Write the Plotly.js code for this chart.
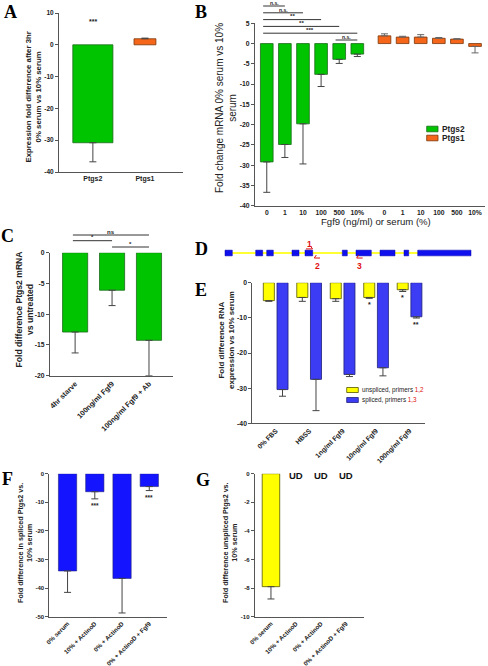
<!DOCTYPE html>
<html><head><meta charset="utf-8">
<script src="https://cdn.plot.ly/plotly-3.0.1.min.js"></script>
<style>html,body{margin:0;padding:0;background:#fff}</style>
</head><body><div id="chart" style="width:488px;height:666px"></div>
<script>
// ================= DATA =================
// Panel A
const catA = ['Ptgs2', 'Ptgs1'];
const valA = [-30.8, 1.9];
const errA = [6.0, 0.2];
const starsA = ['***', ''];

// Panel B
const catB = ['0', '1', '10', '100', '500', '10%'];
const seriesB = ['Ptgs2', 'Ptgs1'];
const ptgs2B = [-29.2, -24.9, -19.8, -7.6, -3.9, -2.6];
const ptgs2BErr = [7.5, 3.2, 9.9, 3.0, 1.0, 0.6];
const ptgs1B = [1.9, 1.6, 1.6, 1.3, 1.1, -0.7];
const ptgs1BErr = [0.5, 0.2, 0.6, 0.2, 0.1, 1.6];
const sigB = [[0, 1, 'n.s.'], [0, 2, 'n.s.'], [0, 3, '**'], [0, 4, '**'], [0, 5, '***'], [4, 5, 'n.s.']];

// Panel C
const catC = ['4hr starve', '100ng/ml Fgf9', '100ng/ml Fgf9 + Ab'];
const valC = [-12.9, -6.1, -14.25];
const errC = [3.4, 2.5, 5.75];
const sigC = [[0, 2, 'ns'], [0, 1, '*'], [1, 2, '*']];

// Panel D (gene schematic, arbitrary units)
const exonStart = [0, 30.7, 41.7, 67, 80, 117.3, 131, 155, 179, 192.7];
const exonEnd = [7.3, 37.7, 48.3, 74, 87.7, 122.3, 146.3, 170, 183.7, 246];
const primerLabel = ['1', '2', '3'];
const primerStart = [81, 89.3, 131.7];
const primerEnd = [87.5, 95, 137.7];
const primerStrand = [1, -1, -1];

// Panel E
const catE = ['0% FBS', 'HBSS', '1ng/ml Fgf9', '10ng/ml Fgf9', '100ng/ml Fgf9'];
const seriesEName = ['unspliced, primers ', 'spliced, primers '];
const seriesEPrimers = ['1,2', '1,3'];
const unsplicedE = [-5.1, -4.2, -4.55, -4.2, -2.0];
const unsplicedErr = [0.2, 1.1, 0.75, 0.25, 0.5];
const splicedE = [-30.4, -27.5, -26.1, -24.2, -9.7];
const splicedErr = [1.9, 8.9, 0.6, 2.3, 0.35];
const starsUnspliced = ['', '', '', '*', '*'];
const starsSpliced = ['', '', '', '', '**'];

// Panel F
const catF = ['0% serum', '10% + ActinoD', '0% + ActinoD', '0% + ActinoD + Fgf9'];
const valF = [-34.0, -6.3, -36.6, -4.5];
const errF = [7.5, 2.5, 12.1, 1.4];
const starsF = ['', '***', '', '***'];

// Panel G
const catG = ['0% serum', '10% + ActinoD', '0% + ActinoD', '0% + ActinoD + Fgf9'];
const valG = [-7.9, null, null, null];
const errG = [0.86, 0, 0, 0];
const udG = ['', 'UD', 'UD', 'UD'];

// ================= STYLE / LAYOUT HELPERS =================
const FONT = 'Liberation Sans, Arial, sans-serif';
const SERIF = 'Liberation Serif, Times New Roman, serif';
const W = 488, H = 666;
const px = v => v / W;
const py = v => 1 - v / H;
const GREEN = '#00c400', GREEN_L = '#1d6b1d';
const ORANGE = '#f5661a', ORANGE_L = '#7a3508';
const YELLOW = '#ffff00', YELLOW_L = '#555500';
const BLUE_E = '#3c3cf5', BLUE_F = '#1414ff', BLUE_L = '#20207a';
const AXC = '#555';

function idx(arr) { return arr.map((_, i) => i); }
function errY(vals, errs, color) {
  return {
    type: 'data', symmetric: false, visible: true,
    array: vals.map((v, i) => (v !== null && v >= 0) ? errs[i] : 0),
    arrayminus: vals.map((v, i) => (v !== null && v < 0) ? errs[i] : 0),
    color: color || '#444', thickness: 1, width: 3.5
  };
}
function ticksFor(range, step) {
  const v = [];
  for (let t = range[0]; t <= range[1] + 1e-9; t += step) v.push(t);
  return v;
}
function yAx(top, bot, range, tickTop, step, fs, anchor) {
  const tv = ticksFor([range[0], tickTop], step);
  return {
    domain: [py(bot), py(top)], range: range, anchor: anchor,
    tickmode: 'array', tickvals: tv, ticktext: tv.map(String),
    showline: true, linecolor: AXC, linewidth: 1, ticks: 'outside', ticklen: 3, tickwidth: 1, tickcolor: AXC,
    showgrid: false, zeroline: false, automargin: false, fixedrange: true,
    tickfont: { family: FONT, size: fs, color: '#222', weight: 700 }
  };
}
function xAx(l, r, range, tv, tt, fs, angle, anchor) {
  return {
    domain: [px(l), px(r)], range: range, anchor: anchor,
    tickmode: 'array', tickvals: tv, ticktext: tt, tickangle: angle,
    showline: true, linecolor: AXC, linewidth: 1, ticks: '', showgrid: false, zeroline: false,
    automargin: false, fixedrange: true,
    tickfont: { family: FONT, size: fs, color: '#222', weight: 700 }
  };
}

const traces = [];
const shapes = [];
const annotations = [];

function ytitle(text, x, y, fs, bold) {
  annotations.push({
    xref: 'paper', yref: 'paper', x: px(x), y: py(y), text: text, textangle: -90, showarrow: false,
    xanchor: 'center', yanchor: 'middle', borderpad: 0,
    font: { family: FONT, size: fs, color: '#222', weight: bold ? 700 : 400 }
  });
}
function letter(t, x, y) {
  annotations.push({
    xref: 'paper', yref: 'paper', x: px(x), y: py(y), text: t, showarrow: false,
    xanchor: 'center', yanchor: 'middle', borderpad: 0,
    font: { family: SERIF, size: 18, color: '#000', weight: 700 }
  });
}

// ================= PANEL A =================
traces.push({
  type: 'bar', name: 'A', x: idx(catA), y: valA, width: [0.77, 0.42],
  marker: { color: [GREEN, ORANGE], line: { color: [GREEN_L, ORANGE_L], width: 0.8 } },
  error_y: errY(valA, errA), xaxis: 'x', yaxis: 'y', hoverinfo: 'skip'
});
starsA.forEach((s, i) => {
  if (s) annotations.push({ xref: 'x', yref: 'y', x: i, y: 7.2, text: s, showarrow: false,
    font: { family: FONT, size: 7, color: '#222', weight: 700 } });
});
ytitle('Expression fold difference after 3hr<br>0% serum vs 10% serum', 32.5, 97, 7.8, true);
letter('A', 10.5, 12);

// ================= PANEL B =================
const xB2 = idx(catB);
const xB1 = catB.map((_, i) => i + 6.5);
traces.push({
  type: 'bar', name: seriesB[0], x: xB2, y: ptgs2B, width: 0.7,
  marker: { color: GREEN, line: { color: GREEN_L, width: 0.8 } },
  error_y: errY(ptgs2B, ptgs2BErr), xaxis: 'x2', yaxis: 'y2', hoverinfo: 'skip'
});
traces.push({
  type: 'bar', name: seriesB[1], x: xB1, y: ptgs1B, width: 0.7,
  marker: { color: ORANGE, line: { color: ORANGE_L, width: 0.8 } },
  error_y: errY(ptgs1B, ptgs1BErr, '#666'), xaxis: 'x2', yaxis: 'y2', hoverinfo: 'skip'
});
sigB.forEach((s, k) => {
  const yy = 6 + k * 6.8;
  shapes.push({ type: 'line', xref: 'x2', yref: 'paper', x0: s[0] - 0.2, x1: s[1], y0: py(yy), y1: py(yy),
    line: { color: '#333', width: 1 } });
  annotations.push({ xref: 'x2', yref: 'paper', x: (s[0] - 0.2 + s[1]) / 2, y: py(yy + 0.8), yanchor: 'bottom', borderpad: 0,
    text: s[2], showarrow: false, font: { family: FONT, size: s[2] === 'n.s.' ? 5 : 6.2, color: '#222', weight: 700 } });
});
ytitle('Fold change mRNA 0% serum vs 10%<br>serum', 226, 108, 10, false);
annotations.push({ xref: 'paper', yref: 'paper', x: px(376), y: py(221), text: 'Fgf9 (ng/ml) or serum (%)',
  showarrow: false, xanchor: 'center', yanchor: 'middle', font: { family: FONT, size: 9.6, color: '#222' } });
// legend B
[[GREEN, GREEN_L], [ORANGE, ORANGE_L]].forEach((c, k) => {
  const yc = 129 + k * 9;
  shapes.push({ type: 'rect', xref: 'paper', yref: 'paper', x0: px(426.7), x1: px(438), y0: py(yc + 2.8), y1: py(yc - 2.8),
    fillcolor: c[0], line: { color: c[1], width: 0.8 } });
  annotations.push({ xref: 'paper', yref: 'paper', x: px(439.5), y: py(yc), xanchor: 'left', yanchor: 'middle',
    text: seriesB[k], showarrow: false, font: { family: FONT, size: 8.3, color: '#222', weight: 700 } });
});
letter('B', 201, 11.7);

// ================= PANEL C =================
traces.push({
  type: 'bar', name: 'C', x: idx(catC), y: valC, width: 0.68,
  marker: { color: GREEN, line: { color: GREEN_L, width: 0.8 } },
  error_y: errY(valC, errC), xaxis: 'x3', yaxis: 'y3', hoverinfo: 'skip'
});
const sigCy = [235, 240.7, 247];
sigC.forEach((s, k) => {
  const yy = sigCy[k];
  const x0 = s[0] === 0 ? -0.06 : s[0];
  shapes.push({ type: 'line', xref: 'x3', yref: 'paper', x0: x0, x1: s[1], y0: py(yy), y1: py(yy),
    line: { color: '#333', width: 1 } });
  annotations.push({ xref: 'x3', yref: 'paper', x: (x0 + s[1]) / 2, y: py(yy + 0.5), yanchor: 'bottom', borderpad: 0,
    text: s[2], showarrow: false, font: { family: FONT, size: 6, color: '#222', weight: 700 } });
});
ytitle('Fold difference Ptgs2 mRNA<br>vs untreated', 23.5, 310, 8.6, true);
letter('C', 7.5, 236);

// ================= PANEL D =================
traces.push({
  type: 'bar', orientation: 'h', name: 'intron', y: [0], x: [exonEnd[exonEnd.length - 1] - exonStart[0]],
  base: [exonStart[0]], width: 0.15, marker: { color: '#ffff33', line: { width: 0 } },
  xaxis: 'x4', yaxis: 'y4', hoverinfo: 'skip'
});
traces.push({
  type: 'bar', orientation: 'h', name: 'exons', y: exonStart.map(() => 0),
  x: exonEnd.map((e, i) => e - exonStart[i]), base: exonStart, width: 0.42,
  marker: { color: '#1010ee', line: { color: '#0000aa', width: 0.5 } }, xaxis: 'x4', yaxis: 'y4', hoverinfo: 'skip'
});
primerLabel.forEach((lab, i) => {
  const fwd = primerStrand[i] > 0;
  const ya = fwd ? 0.3 : -0.37;
  const head = fwd ? primerEnd[i] : primerStart[i];
  const tail = fwd ? primerStart[i] : primerEnd[i];
  const hook = fwd ? -2 : 2;
  traces.push({
    type: 'scatter', mode: 'lines', x: [tail, head, head + hook], y: [ya, ya, ya + 0.22],
    line: { color: '#e01010', width: 1 }, xaxis: 'x4', yaxis: 'y4', hoverinfo: 'skip'
  });
  annotations.push({ xref: 'x4', yref: 'y4', x: (primerStart[i] + primerEnd[i]) / 2, y: fwd ? 0.68 : -0.92,
    text: lab, showarrow: false, xanchor: 'center', yanchor: 'middle',
    font: { family: FONT, size: 8.5, color: '#e01010', weight: 700 } });
});
letter('D', 201.5, 248.5);

// ================= PANEL E =================
traces.push({
  type: 'bar', name: seriesEName[0] + seriesEPrimers[0], x: idx(catE), y: unsplicedE, width: 0.33, offset: -0.371,
  marker: { color: YELLOW, line: { color: YELLOW_L, width: 0.8 } },
  error_y: errY(unsplicedE, unsplicedErr), xaxis: 'x5', yaxis: 'y5', hoverinfo: 'skip'
});
traces.push({
  type: 'bar', name: seriesEName[1] + seriesEPrimers[1], x: idx(catE), y: splicedE, width: 0.33, offset: 0.038,
  marker: { color: BLUE_E, line: { color: BLUE_L, width: 0.8 } },
  error_y: errY(splicedE, splicedErr), xaxis: 'x5', yaxis: 'y5', hoverinfo: 'skip'
});
starsUnspliced.forEach((s, i) => {
  if (s) annotations.push({ xref: 'x5', yref: 'y5', x: i - 0.206, y: unsplicedE[i] - unsplicedErr[i], yanchor: 'top', yshift: -1,
    text: s, showarrow: false, font: { family: FONT, size: 7, color: '#222', weight: 700 } });
});
starsSpliced.forEach((s, i) => {
  if (s) annotations.push({ xref: 'x5', yref: 'y5', x: i + 0.203, y: splicedE[i] - splicedErr[i], yanchor: 'top', yshift: -1,
    text: s, showarrow: false, font: { family: FONT, size: 7, color: '#222', weight: 700 } });
});
[[YELLOW, YELLOW_L], [BLUE_E, BLUE_L]].forEach((c, k) => {
  const yc = 390 + k * 10;
  shapes.push({ type: 'rect', xref: 'paper', yref: 'paper', x0: px(346.7), x1: px(358.3), y0: py(yc + 2.5), y1: py(yc - 2.5),
    fillcolor: c[0], line: { color: c[1], width: 0.8 } });
  annotations.push({ xref: 'paper', yref: 'paper', x: px(360.3), y: py(yc), xanchor: 'left', yanchor: 'middle',
    text: seriesEName[k] + '<span style="color:#e01010">' + seriesEPrimers[k] + '</span>', showarrow: false,
    font: { family: FONT, size: 6.3, color: '#222' } });
});
ytitle('Fold difference RNA<br>expression vs 10% serum', 226, 340, 8, true);
letter('E', 201, 290);

// ================= PANEL F =================
traces.push({
  type: 'bar', name: 'F', x: idx(catF), y: valF, width: 0.67,
  marker: { color: BLUE_F, line: { color: BLUE_L, width: 0.6 } },
  error_y: errY(valF, errF), xaxis: 'x6', yaxis: 'y6', hoverinfo: 'skip'
});
starsF.forEach((s, i) => {
  if (s) annotations.push({ xref: 'x6', yref: 'y6', x: i, y: valF[i] - errF[i], yanchor: 'top', yshift: -1.5,
    text: s, showarrow: false, font: { family: FONT, size: 6.5, color: '#222', weight: 700 } });
});
ytitle('Fold difference in spliced Ptgs2 vs.<br>10% serum', 25, 543, 7.2, true);
letter('F', 7.5, 478.5);

// ================= PANEL G =================
traces.push({
  type: 'bar', name: 'G', x: idx(catG), y: valG, width: 0.7,
  marker: { color: YELLOW, line: { color: YELLOW_L, width: 0.8 } },
  error_y: errY(valG, errG), xaxis: 'x7', yaxis: 'y7', hoverinfo: 'skip'
});
udG.forEach((s, i) => {
  if (s) annotations.push({ xref: 'x7', yref: 'y7', x: i, y: -0.14, yanchor: 'middle',
    text: s, showarrow: false, font: { family: FONT, size: 9.5, color: '#111', weight: 700 } });
});
ytitle('Fold difference unspliced Ptgs2 vs.<br>10% serum', 230, 543, 7.2, true);
letter('G', 202.5, 479.5);

// ================= LAYOUT =================
const layout = {
  width: W, height: H, margin: { l: 0, r: 0, t: 0, b: 0 },
  paper_bgcolor: '#fff', plot_bgcolor: 'rgba(0,0,0,0)',
  showlegend: false, barmode: 'overlay', hovermode: false,
  font: { family: FONT, color: '#222' },
  xaxis: xAx(59, 183, [-0.65, 1.73], idx(catA), catA, 7, 0, 'y'),
  yaxis: yAx(13, 172, [-40, 10], 10, 10, 6.5, 'x'),
  xaxis2: xAx(255, 485, [-0.65, 12.05], xB2.concat(xB1), catB.concat(catB), 6.8, 0, 'y2'),
  yaxis2: yAx(23.3, 205.7, [-40, 5], 5, 5, 6.8, 'x2'),
  xaxis3: xAx(50, 173, [-0.68, 2.65], idx(catC), catC, 7.3, -45, 'y3'),
  yaxis3: yAx(252.7, 375.7, [-20, 0], 0, 5, 6.8, 'x3'),
  xaxis4: { domain: [px(224), px(472)], range: [-1, 247], visible: false, anchor: 'y4', fixedrange: true },
  yaxis4: { domain: [py(270), py(236)], range: [-1.25, 1.25], visible: false, anchor: 'x4', fixedrange: true },
  xaxis5: xAx(252.3, 425, [-0.7, 4.46], idx(catE), catE, 6.8, -45, 'y5'),
  yaxis5: yAx(282.7, 423.3, [-40, 0], 0, 10, 6.8, 'x5'),
  xaxis6: xAx(49.3, 167, [-0.67, 3.65], idx(catF), catF, 6.2, -45, 'y6'),
  yaxis6: yAx(473.7, 616.7, [-50, 0], 0, 10, 6, 'x6'),
  xaxis7: xAx(254.7, 364, [-0.65, 3.72], idx(catG), catG, 6.2, -45, 'y7'),
  yaxis7: yAx(473.7, 616.7, [-10, 0], 0, 2, 6, 'x7'),
  shapes: shapes, annotations: annotations
};

Plotly.newPlot('chart', traces, layout, { staticPlot: true, displayModeBar: false });
</script></body></html>
